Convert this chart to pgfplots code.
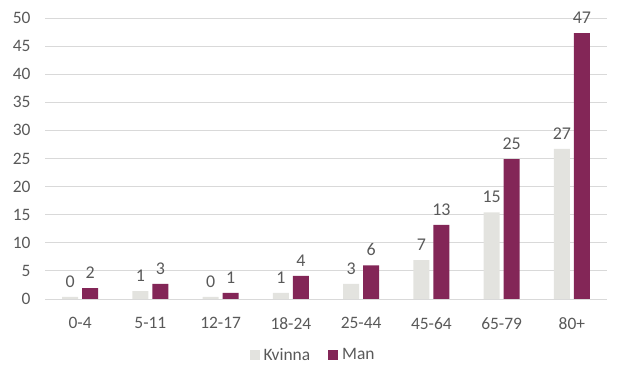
\documentclass[border=0pt]{standalone}
\usepackage{pgfplots}
\pgfplotsset{compat=1.18}
\usepackage{fontspec}
\setmainfont{Carlito}
\definecolor{maroon}{HTML}{832657}
\definecolor{lgray}{HTML}{E3E3DF}
\definecolor{txt}{HTML}{595959}
\definecolor{gridc}{HTML}{D9D9D9}
\begin{document}
\begin{tikzpicture}
\path[use as bounding box] (0,0) rectangle (621bp,381bp);
\begin{axis}[
  at={(45bp,82bp)}, anchor=south west,
  scale only axis, width=562bp, height=281bp,
  ybar=4bp, bar width=16bp,
  xmin=-0.5, xmax=7.5, ymin=0, ymax=50,
  ytick={0,5,...,50},
  xtick=data,
  xticklabels={0-4,5-11,12-17,18-24,25-44,45-64,65-79,80+},
  axis line style={draw=none},
  major tick length=0pt,
  ymajorgrids, grid style={gridc, line width=0.8bp},
  /pgf/number format/assume math mode=true,
  tick label style={font=\fontsize{17.5}{20}\selectfont, text=txt},
  yticklabel style={xshift=-11bp},
  xticklabel style={yshift=-15bp},
  nodes near coords,
  nodes near coords style={font=\fontsize{18}{21}\selectfont, text=txt, yshift=6bp,
    /pgf/number format/.cd, fixed, precision=0},
  legend style={at={(0.477,-0.199)}, anchor=center, draw=none, fill=none,
    legend columns=2, font=\fontsize{17.5}{20}\selectfont, text=txt,
    /tikz/every odd column/.append style={column sep=2bp},
    /tikz/every even column/.append style={column sep=16bp}},
  legend image code/.code={\fill[#1] (0bp,-5bp) rectangle (10bp,5bp);},
]
\addplot[fill=lgray, draw=none] coordinates {(0,0.4) (1,1.4) (2,0.4) (3,1.1) (4,2.7) (5,6.9) (6,15.4) (7,26.7)};
\addplot[fill=maroon, draw=none] coordinates {(0,1.95) (1,2.7) (2,1.1) (3,4.1) (4,6.0) (5,13.2) (6,24.9) (7,47.3)};
\legend{Kvinna, Man}
\end{axis}
\end{tikzpicture}
\end{document}
